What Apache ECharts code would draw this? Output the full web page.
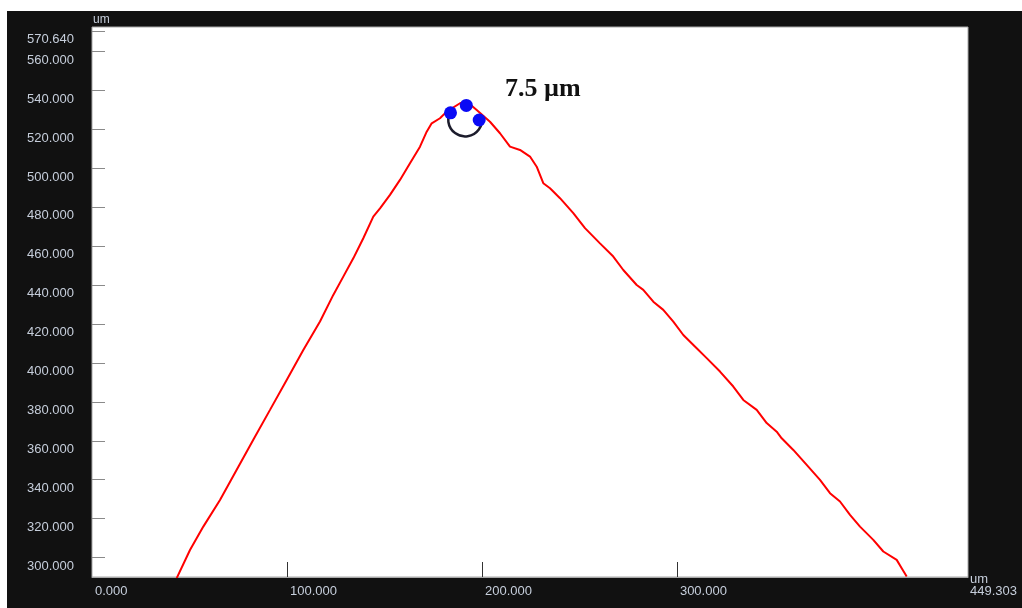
<!DOCTYPE html>
<html>
<head>
<meta charset="utf-8">
<script src="https://cdn.jsdelivr.net/npm/echarts@6/dist/echarts.min.js"></script>
<style>
  html, body { margin: 0; padding: 0; background: #ffffff; width: 1022px; height: 608px; overflow: hidden; }
  #chart { position: absolute; left: 7px; top: 11px; width: 1015px; height: 597px; }
</style>
</head>
<body>
<div id="chart"></div>
<script>
// Surface profile (position in um, height in um)
const profileX = [43.44, 50.26, 57.09, 65.65, 74.22, 82.73, 91.30, 99.86, 108.38, 116.94,
  123.76, 128.89, 134.02, 139.15, 144.28, 147.72, 152.84, 157.97, 163.10, 168.23,
  171.67, 174.23, 178.49, 181.93, 188.75, 192.18, 197.31, 204.13, 209.26, 214.39,
  219.52, 224.65, 228.09, 231.47, 234.91, 240.04, 246.86, 252.86, 260.55, 267.37,
  272.50, 279.38, 282.76, 287.89, 293.02, 298.15, 303.28, 310.15, 315.28, 322.10,
  328.92, 334.05, 340.92, 346.05, 351.18, 353.75, 359.70, 366.57, 373.39, 378.52,
  383.65, 388.78, 393.91, 400.73, 405.86, 412.73, 415.30, 417.86];
const profileY = [289.4, 303.9, 315.9, 329.6, 345.1, 360.5, 375.9, 391.3, 406.7, 421.3,
  435.0, 444.4, 453.8, 464.1, 475.2, 479.5, 486.4, 494.1, 502.7, 511.2,
  518.9, 523.2, 525.8, 529.2, 533.5, 534.4, 530.0, 524.0, 518.1, 511.2,
  509.5, 506.1, 500.9, 492.4, 489.8, 484.7, 477.0, 469.3, 461.5, 454.7,
  447.8, 440.1, 437.6, 431.5, 427.3, 421.3, 414.4, 407.6, 402.5, 395.6,
  387.9, 381.0, 375.9, 369.1, 364.7, 361.3, 355.3, 347.6, 339.9, 333.1,
  328.8, 321.9, 315.9, 309.1, 303.1, 298.8, 294.5, 290.2];

// Three points picked on the tip and the fitted tip circle
const tipPointsX = [183.87, 191.98, 198.60];
const tipPointsY = [528.6, 532.4, 524.9];
const tipCircleCenter = [191.4, 525.2];
const tipCircleRadius = 8.7;
const tipRadiusLabel = '7.5 µm';

// Axis ranges and tick labels
const xMin = 0, xMax = 449.303;
const yMin = 290, yMax = 572.7;
const xLabelValues = [0, 100, 200, 300];
const xTickValues = [100, 200, 300];
const yTickValues = [300, 320, 340, 360, 380, 400, 420, 440, 460, 480, 500, 520, 540, 560, 570.64];

const labelColor = '#c6cedb';
const labelFont = 'Liberation Sans';

const chart = echarts.init(document.getElementById('chart'), null, { renderer: 'canvas' });

const option = {
  backgroundColor: '#111111',
  animation: false,
  grid: {
    left: 85, top: 16, width: 876, height: 550,
    show: true, backgroundColor: '#ffffff', borderColor: '#a8a8a8', borderWidth: 1
  },
  xAxis: {
    type: 'value', min: xMin, max: xMax,
    splitLine: { show: false },
    axisLine: { show: true, lineStyle: { color: '#a8a8a8', width: 1 } },
    axisTick: { show: true, inside: true, length: 15, customValues: xTickValues, lineStyle: { color: '#333333', width: 1 } },
    axisLabel: {
      customValues: xLabelValues, align: 'left', margin: 7, padding: [1, 0, 0, 3],
      color: labelColor, fontFamily: labelFont, fontSize: 13,
      formatter: v => v.toFixed(3)
    },
    name: 'um\n' + xMax.toFixed(3), nameLocation: 'end', nameGap: 2,
    nameTextStyle: { color: labelColor, fontFamily: labelFont, fontSize: 13, align: 'left', verticalAlign: 'top', lineHeight: 12, padding: [-4, 0, 0, 0] }
  },
  yAxis: {
    type: 'value', min: yMin, max: yMax,
    splitLine: { show: false },
    axisLine: { show: false },
    axisTick: { show: true, inside: true, length: 13, customValues: yTickValues, lineStyle: { color: '#8a8a8a', width: 1 } },
    axisLabel: {
      customValues: yTickValues, margin: 18, verticalAlign: 'top', padding: [2, 0, 0, 0],
      color: labelColor, fontFamily: labelFont, fontSize: 13,
      formatter: v => v.toFixed(3)
    },
    name: 'um', nameLocation: 'end', nameGap: 1,
    nameTextStyle: { color: labelColor, fontFamily: labelFont, fontSize: 12, align: 'left', padding: [0, 0, 0, 1] }
  },
  series: [
    {
      type: 'line', name: 'profile',
      data: profileX.map((x, i) => [x, profileY[i]]),
      showSymbol: false, symbol: 'none', clip: true,
      lineStyle: { color: '#ff0000', width: 2 }, z: 2
    },
    {
      type: 'custom', name: 'tip circle', z: 3,
      data: [[tipCircleCenter[0], tipCircleCenter[1], tipCircleRadius]],
      renderItem: (params, api) => {
        const c = api.coord([api.value(0), api.value(1)]);
        const r = api.size([api.value(2), 0])[0];
        return {
          type: 'arc',
          shape: { cx: c[0], cy: c[1], r: r, startAngle: -0.15, endAngle: Math.PI + 0.3, clockwise: true },
          style: { stroke: '#1c1c2c', lineWidth: 2.5, fill: null }
        };
      }
    },
    {
      type: 'scatter', name: 'tip points', z: 4,
      data: tipPointsX.map((x, i) => [x, tipPointsY[i]]),
      symbolSize: 13, itemStyle: { color: '#0a0af5', opacity: 1 }
    }
  ],
  graphic: [
    {
      type: 'text', left: 498, top: 65, z: 10,
      style: { text: tipRadiusLabel, fill: '#111111', font: 'bold 26px "Liberation Serif"' }
    }
  ]
};

chart.setOption(option);
</script>
</body>
</html>
